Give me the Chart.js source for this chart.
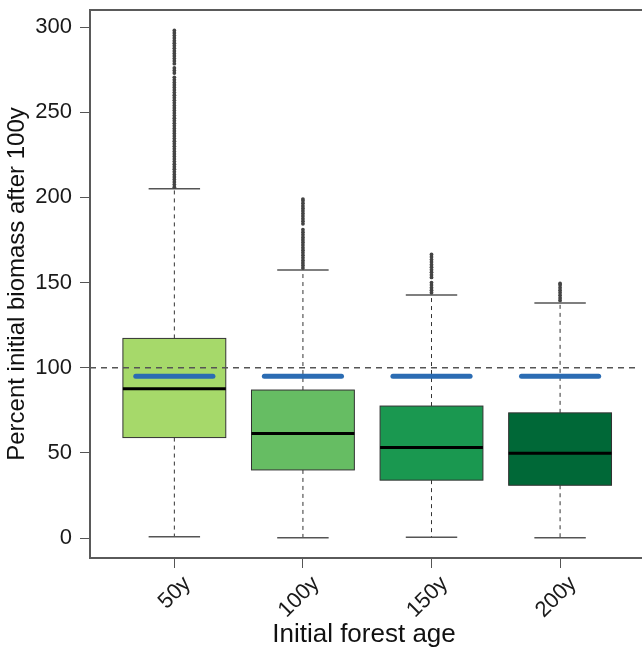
<!DOCTYPE html>
<html>
<head>
<meta charset="utf-8">
<script src="https://cdn.jsdelivr.net/npm/chart.js@4.4.1/dist/chart.umd.min.js"></script>
<style>
  html, body { margin: 0; padding: 0; background: #fff; overflow: hidden; }
  canvas { display: block; }
</style>
</head>
<body>
<canvas id="chart" width="642" height="650"></canvas>
<script>
// Dados
const CATEGORIES = ['50y', '100y', '150y', '200y'];
const POSITIONS = [1, 2, 3, 4];
const LOWER = [0.8, 0.2, 0.5, 0.2];
const Q1 = [59, 40, 34, 31];
const MEDIAN = [87.6, 61.4, 53.2, 49.8];
const Q3 = [117.2, 86.9, 77.5, 73.5];
const UPPER = [205, 157.3, 142.7, 138];
const MEAN_LINE = [95, 95, 95, 95];
const REFERENCE = 100;
const Y_TICKS = [0, 50, 100, 150, 200, 250, 300];

const OUT_50 = [206, 207.5, 209, 210.5, 212, 213.5, 215, 216.5, 218, 219.5, 221, 222.5, 224, 225.5,
  227, 228.5, 230, 231.5, 233, 234.5, 236, 237.5, 239, 240.5, 242, 243.5, 245, 246.5, 248, 249.5,
  251, 252.5, 254, 255.5, 257, 258.5, 260, 261.5, 263, 264.5, 266, 267.5, 269, 270.5,
  273, 274.5, 276, 278.5, 280, 281.5, 283, 284.5, 286, 287.5, 289, 290.5, 292, 293.5, 295, 296.5, 298];
const OUT_100 = [158.5, 160, 161.5, 163, 164.5, 166, 167.5, 169, 170.5, 172, 173.5, 175, 176.5, 178,
  179.5, 181, 184.5, 186, 187.5, 189, 190.5, 192, 193.5, 195, 196.5, 198, 199];
const OUT_150 = [144, 145.5, 147, 148.5, 150, 153, 154.5, 156, 157.5, 159, 160.5, 162, 163.5, 165, 166.5];
const OUT_200 = [139.5, 141, 142.5, 144, 145.5, 147, 148.5, 149.5];
const OUTLIERS = [OUT_50, OUT_100, OUT_150, OUT_200];

// Cores
const BOX_COLORS = ['#a6d96a', '#66bd63', '#1a9850', '#006837'];
const BOX_WIDTH = 0.8;
const MEAN_WIDTH = 0.6;
const FONT = 'Liberation Sans, Arial, sans-serif';

const boxPlotPlugin = {
    id: 'boxPlot',
    beforeDatasetsDraw(chart) {
        const { ctx, scales: { x, y } } = chart;
        ctx.save();
        POSITIONS.forEach((pos, i) => {
            const cx = x.getPixelForValue(pos);
            const left = x.getPixelForValue(pos - BOX_WIDTH / 2);
            const right = x.getPixelForValue(pos + BOX_WIDTH / 2);
            const capL = x.getPixelForValue(pos - BOX_WIDTH / 4);
            const capR = x.getPixelForValue(pos + BOX_WIDTH / 4);
            const yLow = y.getPixelForValue(LOWER[i]);
            const yQ1 = y.getPixelForValue(Q1[i]);
            const yMed = y.getPixelForValue(MEDIAN[i]);
            const yQ3 = y.getPixelForValue(Q3[i]);
            const yUp = y.getPixelForValue(UPPER[i]);

            // bigodes tracejados
            ctx.strokeStyle = '#333';
            ctx.lineWidth = 1;
            ctx.setLineDash([4, 4]);
            ctx.beginPath();
            ctx.moveTo(cx, yQ3); ctx.lineTo(cx, yUp);
            ctx.moveTo(cx, yQ1); ctx.lineTo(cx, yLow);
            ctx.stroke();

            // extremidades
            ctx.setLineDash([]);
            ctx.strokeStyle = '#555';
            ctx.lineWidth = 1.5;
            ctx.beginPath();
            ctx.moveTo(capL, yUp); ctx.lineTo(capR, yUp);
            ctx.moveTo(capL, yLow); ctx.lineTo(capR, yLow);
            ctx.stroke();

            // caixa
            ctx.fillStyle = BOX_COLORS[i];
            ctx.fillRect(left, yQ3, right - left, yQ1 - yQ3);
            ctx.strokeStyle = '#333';
            ctx.lineWidth = 1;
            ctx.strokeRect(left, yQ3, right - left, yQ1 - yQ3);

            // mediana
            ctx.strokeStyle = '#000';
            ctx.lineWidth = 3;
            ctx.beginPath();
            ctx.moveTo(left, yMed); ctx.lineTo(right, yMed);
            ctx.stroke();
        });
        ctx.restore();
    },
    afterDatasetsDraw(chart) {
        const { ctx, chartArea: a, scales: { x, y } } = chart;
        ctx.save();

        // linha de referência em 100
        const yRef = y.getPixelForValue(REFERENCE);
        ctx.strokeStyle = '#555';
        ctx.lineWidth = 1.5;
        ctx.setLineDash([6, 5]);
        ctx.beginPath();
        ctx.moveTo(a.left, yRef); ctx.lineTo(a.right, yRef);
        ctx.stroke();
        ctx.setLineDash([]);

        // segmentos azuis
        ctx.strokeStyle = '#2b6cb3';
        ctx.lineWidth = 5;
        ctx.lineCap = 'round';
        POSITIONS.forEach((pos, i) => {
            const ym = y.getPixelForValue(MEAN_LINE[i]);
            ctx.beginPath();
            ctx.moveTo(x.getPixelForValue(pos - MEAN_WIDTH / 2), ym);
            ctx.lineTo(x.getPixelForValue(pos + MEAN_WIDTH / 2), ym);
            ctx.stroke();
        });
        ctx.lineCap = 'butt';

        // moldura (lado direito fica fora da imagem)
        ctx.strokeStyle = '#5a5a5a';
        ctx.lineWidth = 2;
        ctx.strokeRect(a.left, a.top, a.right - a.left + 20, a.bottom - a.top);
        ctx.restore();
    }
};

const outlierData = OUTLIERS.flatMap((vals, i) => vals.map(v => ({ x: POSITIONS[i], y: v })));

const ctx = document.getElementById('chart');
new Chart(ctx, {
    type: 'scatter',
    data: {
        datasets: [{
            label: 'outliers',
            data: outlierData,
            pointRadius: 1.9,
            pointBackgroundColor: '#444',
            pointBorderWidth: 0
        }]
    },
    options: {
        responsive: false,
        animation: false,
        layout: { padding: { top: 10, right: 0, bottom: 0, left: 0 } },
        plugins: {
            legend: { display: false },
            tooltip: { enabled: false }
        },
        scales: {
            x: {
                type: 'linear',
                min: 0.344,
                max: 4.606,
                afterBuildTicks(scale) { scale.ticks = POSITIONS.map(v => ({ value: v })); },
                afterFit(scale) {
                    scale.height = 92;
                    scale.paddingLeft = 0;
                    scale.paddingRight = 0;
                },
                border: { display: false },
                grid: { drawOnChartArea: false, drawTicks: true, tickLength: 10, color: '#555', lineWidth: 1 },
                ticks: {
                    autoSkip: false,
                    minRotation: 45,
                    maxRotation: 45,
                    labelOffset: 13,
                    padding: 3,
                    color: '#1a1a1a',
                    font: { family: FONT, size: 22 },
                    callback: (value, index) => CATEGORIES[index]
                },
                title: {
                    display: true,
                    text: 'Initial forest age',
                    color: '#111',
                    font: { family: FONT, size: 26 },
                    padding: { top: 0, bottom: 0 }
                }
            },
            y: {
                min: -11.7,
                max: 310,
                afterBuildTicks(scale) { scale.ticks = Y_TICKS.map(v => ({ value: v })); },
                afterFit(scale) {
                    scale.width = 90;
                    scale.paddingTop = 0;
                    scale.paddingBottom = 0;
                },
                border: { display: false },
                grid: { drawOnChartArea: false, drawTicks: true, tickLength: 10, color: '#555', lineWidth: 1 },
                ticks: {
                    padding: 8,
                    color: '#1a1a1a',
                    font: { family: FONT, size: 22 }
                },
                title: {
                    display: true,
                    text: 'Percent initial biomass after 100y',
                    color: '#111',
                    font: { family: FONT, size: 24 },
                    padding: { top: 3, bottom: 0 }
                }
            }
        }
    },
    plugins: [boxPlotPlugin]
});
</script>
</body>
</html>
